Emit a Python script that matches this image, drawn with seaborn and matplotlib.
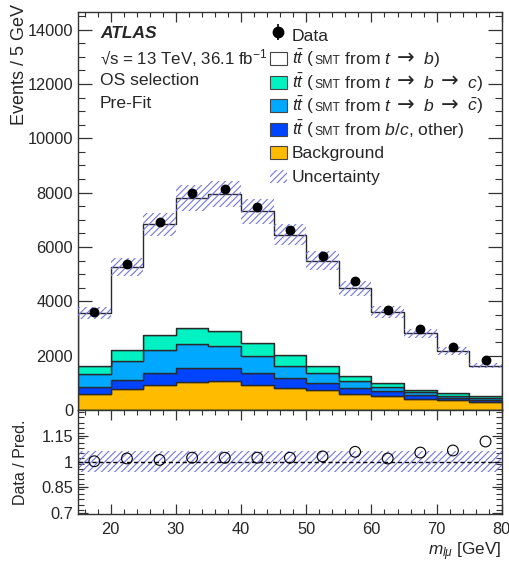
import re
import numpy as np
import pandas as pd
import matplotlib
matplotlib.use("Agg")
import matplotlib.pyplot as plt
import seaborn as sns
from matplotlib.patches import Patch, Rectangle
from matplotlib.lines import Line2D
from matplotlib.legend_handler import HandlerPatch
from matplotlib.offsetbox import TextArea, HPacker
from matplotlib.ticker import MultipleLocator, FixedLocator

# m_lmu binning (GeV)
bin_edges = [15, 20, 25, 30, 35, 40, 45, 50, 55, 60, 65, 70, 75, 80]

# Observed events per bin
data_counts = [3590, 5380, 6910, 7980, 8140, 7490, 6615, 5670, 4740, 3665, 2975, 2315, 1825]

# Pre-fit predictions per bin
ttbar_b = [1947, 3054, 4074, 4773, 5030, 4858, 4436, 3876, 3227, 2613, 2074, 1557, 1116]
ttbar_bc = [318, 430, 552, 589, 565, 466, 392, 246, 171, 135, 98, 86, 73]
ttbar_bcbar = [454, 675, 834, 883, 809, 638, 466, 368, 258, 160, 110, 86, 74]
ttbar_other = [282, 355, 466, 516, 491, 442, 356, 282, 233, 172, 123, 86, 61]
background = [577, 761, 908, 1030, 1055, 908, 810, 724, 589, 515, 417, 356, 307]

# Relative systematic uncertainty on the total prediction
rel_unc = [0.062, 0.062, 0.062, 0.062, 0.062, 0.062, 0.062, 0.062, 0.062, 0.062, 0.062, 0.062, 0.062]

# Listed from the top of the stack down
labels = [
    "$t\\bar{t}$ (SMT from $t$  \u2192  $b$)",
    "$t\\bar{t}$ (SMT from $t$  \u2192  $b$  \u2192  $c$)",
    "$t\\bar{t}$ (SMT from $t$  \u2192  $b$  \u2192  $\\bar{c}$)",
    "$t\\bar{t}$ (SMT from $b/c$, other)",
    "Background",
]
colors = ["#ffffff", "#00f2c3", "#00a8ff", "#0044ff", "#ffbb00"]
components = [ttbar_b, ttbar_bc, ttbar_bcbar, ttbar_other, background]

edges = np.array(bin_edges, dtype=float)
centers = 0.5 * (edges[:-1] + edges[1:])
nb = len(centers)

df = pd.DataFrame({
    "m": np.tile(centers, len(components)),
    "w": np.concatenate([np.asarray(c, float) for c in components]),
    "component": np.repeat(labels, nb),
})

total = np.sum([np.asarray(c, float) for c in components], axis=0)
data = np.asarray(data_counts, float)
unc = np.asarray(rel_unc) * total
ratio = data / total

sns.set_theme(style="ticks")
plt.rcParams["font.family"] = ["Liberation Sans", "DejaVu Sans"]
plt.rcParams["mathtext.fontset"] = "custom"
plt.rcParams["mathtext.rm"] = "Liberation Sans"
plt.rcParams["mathtext.it"] = "Liberation Sans:italic"
plt.rcParams["mathtext.bf"] = "Liberation Sans:bold"
plt.rcParams["hatch.linewidth"] = 0.8

fig = plt.figure(figsize=(5.10, 5.65), dpi=100)
ax = fig.add_axes([0.153, 0.2743, 0.831, 0.7045])
rax = fig.add_axes([0.153, 0.0903, 0.831, 0.1840], sharex=ax)

hatch_col = "#7474e6"
hatch = "/////"

# Stacked prediction (first hue level ends up on top)
sns.histplot(df, x="m", weights="w", hue="component", hue_order=labels,
             multiple="stack", bins=list(bin_edges), element="step",
             palette=dict(zip(labels, colors)),
             alpha=1, edgecolor="#2a2a2a", linewidth=1.0, legend=False, ax=ax)

# Uncertainty band on total prediction
ax.stairs(total + unc, edges, baseline=total - unc, fill=True, facecolor="none",
          edgecolor=hatch_col, linewidth=0, hatch=hatch, zorder=3)

# Data
sns.scatterplot(x=centers, y=data, color="black", s=50, edgecolor="black",
                linewidth=0, ax=ax, zorder=5)

ax.set_xlim(15, 80)
ax.set_ylim(0, 14650)
ax.set_xlabel("")
ax.set_ylabel("Events / 5 GeV", fontsize=13, loc="top")
ax.yaxis.set_label_coords(-0.118, 1.02)
ax.yaxis.set_major_locator(MultipleLocator(2000))
ax.yaxis.set_minor_locator(MultipleLocator(500))
ax.xaxis.set_major_locator(MultipleLocator(10))
ax.xaxis.set_minor_locator(MultipleLocator(2))
plt.setp(ax.get_xticklabels(), visible=False)

# Ratio panel
rax.stairs(1 + np.asarray(rel_unc), edges, baseline=1 - np.asarray(rel_unc), fill=True,
           facecolor="none", edgecolor=hatch_col, linewidth=0, hatch=hatch, zorder=2)
rax.axhline(1.0, color="black", ls=(0, (3, 2)), lw=1.0, zorder=3)
sns.scatterplot(x=centers, y=ratio, s=60, facecolor="none", edgecolor="black",
                linewidth=0.8, ax=rax, zorder=4)
rax.set_ylim(0.695, 1.303)
rax.yaxis.set_major_locator(FixedLocator([0.7, 0.85, 1.0, 1.15]))
rax.yaxis.set_minor_locator(MultipleLocator(0.03))
rax.set_yticklabels(["0.7", "0.85", "1", "1.15"])
rax.set_ylabel("Data / Pred.", fontsize=11.5)
rax.yaxis.set_label_coords(-0.118, 0.5)
xl = rax.set_xlabel(r"$m_{l\mu}$ [GeV]", fontsize=12.3)
rax.xaxis.set_label_coords(1.0, -0.25)
xl.set_horizontalalignment("right")
rax.set_xticks([20, 30, 40, 50, 60, 70, 80])

for a in (ax, rax):
    a.tick_params(which="both", direction="in", top=True, right=True, labelsize=11.8,
                  color="#333333")
    for sp in a.spines.values():
        sp.set_color("#333333")
        sp.set_linewidth(1.0)
ax.tick_params(axis="y", which="major", length=10, width=0.9)
ax.tick_params(axis="y", which="minor", length=5, width=0.8)
ax.tick_params(axis="x", which="major", length=7, width=0.9)
ax.tick_params(axis="x", which="minor", length=3.6, width=0.8)
rax.tick_params(axis="y", which="major", length=7.5, width=0.9)
rax.tick_params(axis="y", which="minor", length=4, width=0.8)
rax.tick_params(axis="x", which="major", length=7, width=0.9, pad=5.5)
rax.tick_params(axis="x", which="minor", length=3.6, width=0.8)

# Labels
ax.text(0.052, 0.947, "ATLAS", transform=ax.transAxes, fontsize=12.5,
        fontweight="bold", fontstyle="italic", va="center")
ax.text(0.052, 0.884, "\u221as = 13 TeV, 36.1 fb$^{-1}$", transform=ax.transAxes,
        fontsize=12.2, va="center")
ax.text(0.052, 0.827, "OS selection", transform=ax.transAxes, fontsize=12.6, va="center")
ax.text(0.052, 0.769, "Pre-Fit", transform=ax.transAxes, fontsize=12.6, va="center")

# Legend
leg_fs = 12.6
box_h_px = 13.0  # filled-box height inside each legend row


def centred_box(legend, orig_handle, xdescent, ydescent, width, height, fontsize):
    h = box_h_px * 72.0 / fig.dpi
    return Rectangle((-xdescent, -ydescent + (height - h) / 2.0), width, h)


data_handle = (Line2D([], [], marker="o", color="black", ls="none", markersize=7.5),
               Line2D([], [], marker="|", color="black", ls="none", markersize=12,
                      markeredgewidth=1.2))
handles = [data_handle]
for col in colors:
    handles.append(Patch(facecolor=col, edgecolor="#444444", linewidth=0.8))
handles.append(Patch(facecolor="none", edgecolor=hatch_col, linewidth=0, hatch=hatch))
leg_labels = ["Data"] + labels + ["Uncertainty"]
leg = ax.legend(handles, leg_labels, loc="upper left", bbox_to_anchor=(0.452, 0.9716),
                frameon=False, fontsize=leg_fs, borderpad=0, borderaxespad=0,
                handlelength=0.97, handleheight=1.69, handletextpad=0.3,
                labelspacing=0.0,
                handler_map={Patch: HandlerPatch(patch_func=centred_box)})

# Small "SMT" tag and long arrows inside the legend labels
for column in leg._legend_handle_box.get_children():
    for row in column.get_children():
        kids = row.get_children()
        txt = kids[1].get_text() if hasattr(kids[1], "get_text") else ""
        if "SMT" in txt:
            parts = []
            for tok in re.split("(SMT|\u2192)", txt):
                if not tok:
                    continue
                if tok == "SMT":
                    props = dict(size=leg_fs * 0.7)
                elif tok == "\u2192":
                    props = dict(size=leg_fs * 1.2, family="DejaVu Sans")
                else:
                    props = dict(size=leg_fs)
                parts.append(TextArea(tok, textprops=props))
            box = HPacker(children=parts, align="baseline", pad=0, sep=0)
            box.set_figure(fig)
            kids[1] = box

fig.savefig("out.png", dpi=100)
